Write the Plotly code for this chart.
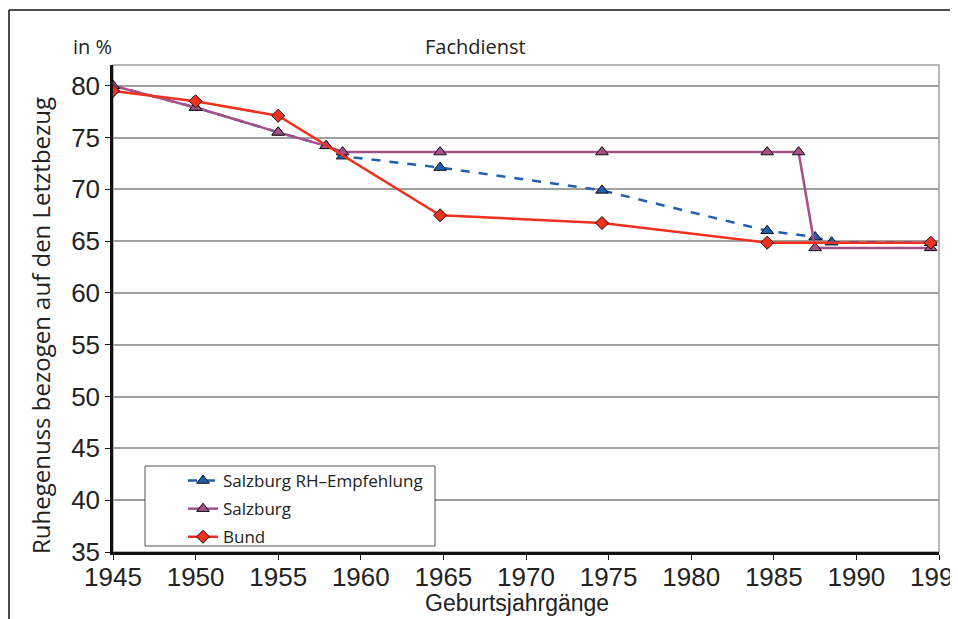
import plotly.graph_objects as go

# Data
rh_years = [1945, 1950, 1955, 1957.9, 1958.9, 1964.8, 1974.6, 1984.6, 1987.5, 1988.5, 1994.5]
rh_values = [80.0, 77.9, 75.5, 74.2, 73.2, 72.1, 69.9, 66.0, 65.4, 64.9, 64.85]

sbg_years = [1945, 1950, 1955, 1957.9, 1958.9, 1964.8, 1974.6, 1984.6, 1986.5, 1987.5, 1994.5]
sbg_values = [80.0, 77.9, 75.5, 74.2, 73.6, 73.6, 73.6, 73.6, 73.6, 64.35, 64.35]

bund_years = [1945, 1950, 1955, 1964.8, 1974.6, 1984.6, 1994.5]
bund_values = [79.5, 78.5, 77.1, 67.5, 66.75, 64.85, 64.85]

x_ticks = [1945, 1950, 1955, 1960, 1965, 1970, 1975, 1980, 1985, 1990, 1995]
y_ticks = [35, 40, 45, 50, 55, 60, 65, 70, 75, 80]

BLUE = "#1F5FAF"
PURPLE = "#A4508A"
RED = "#F2301E"
NARROW = "Liberation Sans Narrow, Arial Narrow, sans-serif"
REG = "Open Sans, Noto Sans, sans-serif"

# plot-area pixel box on screen (page body has 8px margin)
OFF = 8
PL, PR, PT, PB = 113, 939, 65, 552


def px(x):
    return (x - PL) / (PR - PL)


def py(y):
    return (PB - y) / (PB - PT)


fig = go.Figure()
fig.add_trace(go.Scatter(
    x=rh_years, y=rh_values, name="Salzburg RH\u2013Empfehlung", mode="lines+markers",
    legendgroup="a",
    line=dict(color=BLUE, width=2.5, dash="dash"),
    marker=dict(symbol="triangle-up", size=11, color=BLUE, line=dict(color="#111", width=1))))
fig.add_trace(go.Scatter(
    x=sbg_years, y=sbg_values, name="Salzburg", mode="lines+markers",
    legendgroup="b",
    line=dict(color=PURPLE, width=2.5),
    marker=dict(symbol="triangle-up", size=11, color=PURPLE, line=dict(color="#111", width=1))))
fig.add_trace(go.Scatter(
    x=bund_years, y=bund_values, name="Bund", mode="lines+markers",
    legendgroup="c",
    line=dict(color=RED, width=2.5),
    marker=dict(symbol="diamond", size=10, color=RED, line=dict(color="#111", width=1))))

fig.update_layout(
    width=958, height=619,
    margin=dict(l=PL - OFF, r=958 + OFF - PR, t=PT - OFF, b=619 + OFF - PB),
    paper_bgcolor="white", plot_bgcolor="white",
    showlegend=True,
    legend=dict(x=px(183), y=py(463), xanchor="left", yanchor="top",
                bgcolor="rgba(0,0,0,0)", borderwidth=0,
                font=dict(family=REG, size=17, color="#222"),
                tracegroupgap=3),
    annotations=[
        dict(text="Fachdienst", x=px(475), y=py(46), xref="paper", yref="paper",
             xanchor="center", yanchor="middle", showarrow=False,
             font=dict(family=REG, size=20, color="#222")),
        dict(text="in %", x=px(92), y=py(46), xref="paper", yref="paper",
             xanchor="center", yanchor="middle", showarrow=False,
             font=dict(family=REG, size=20, color="#222")),
        dict(text="Geburtsjahrgänge", x=px(517), y=py(603), xref="paper", yref="paper",
             xanchor="center", yanchor="middle", showarrow=False,
             font=dict(family=NARROW, size=23, color="#222")),
        dict(text="Ruhegenuss bezogen auf den Letztbezug", x=px(40), y=py(326),
             xref="paper", yref="paper", textangle=-90,
             xanchor="center", yanchor="middle", showarrow=False,
             font=dict(family=REG, size=24, color="#222")),
    ],
    shapes=[
        dict(type="line", xref="paper", yref="paper", x0=px(9), x1=px(9), y0=py(640), y1=py(10),
             line=dict(color="#111", width=1.5)),
        dict(type="line", xref="paper", yref="paper", x0=px(9), x1=px(980), y0=py(10), y1=py(10),
             line=dict(color="#111", width=1.5)),
        dict(type="rect", xref="paper", yref="paper", x0=0, x1=1, y0=0, y1=1,
             line=dict(color="#A0A0A0", width=1.5), layer="below"),
        dict(type="rect", xref="paper", yref="paper", x0=px(145), x1=px(435), y0=py(546), y1=py(466),
             fillcolor="white", line=dict(color="#555", width=1), layer="above"),
    ],
    xaxis=dict(range=[1945, 1995.0001], tickvals=x_ticks, ticks="outside", ticklen=5,
               tickcolor="#111", showgrid=False, zeroline=False, automargin=False,
               showline=True, linecolor="#111", linewidth=2.5,
               ticklabeloverflow="allow", ticklabelstandoff=-5,
               tickfont=dict(family=NARROW, size=26, color="#222")),
    yaxis=dict(range=[35, 82], tickvals=y_ticks, ticks="outside", ticklen=5,
               tickcolor="#111", showgrid=True, gridcolor="#A0A0A0", gridwidth=1.5,
               zeroline=False, showline=True, linecolor="#111", linewidth=2.5,
               automargin=False,
               tickfont=dict(family=NARROW, size=26, color="#222")),
)

fig.write_html("out.html")
